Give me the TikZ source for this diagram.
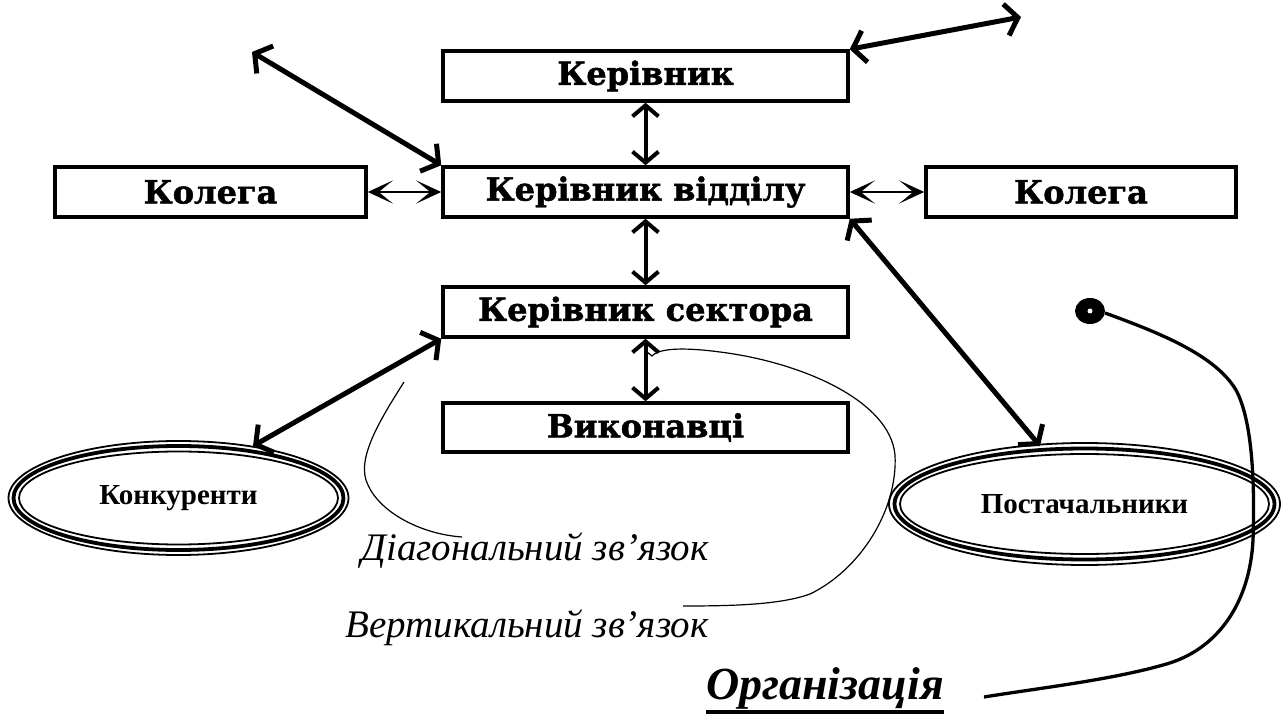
\documentclass[tikz,border=0pt]{standalone}
\usepackage{fontspec}
\setmainfont{Liberation Serif}
\newfontfamily\boxfont{DejaVu Serif}[BoldFeatures={FakeBold=1.5}]
\usetikzlibrary{arrows.meta,shapes.geometric}
\begin{document}
\begin{tikzpicture}[x=1pt,y=-1pt,
  rbox/.style={draw, line width=3.5pt, minimum height=50pt, inner sep=0pt,
    font=\boxfont\bfseries\fontsize{32}{36}\selectfont},
  vlink/.style={line width=4pt, {Straight Barb[length=11pt,width=26pt]}-{Straight Barb[length=11pt,width=26pt]}},
  hlink/.style={line width=2.8pt, {Stealth[length=25pt,width=23pt,inset=14pt]}-{Stealth[length=25pt,width=23pt,inset=14pt]}},
  dlink/.style={line width=5pt, {Straight Barb[length=12pt,width=32pt]}-{Straight Barb[length=12pt,width=32pt]}},
  oval/.style={ellipse, draw, line width=1.8pt, inner sep=0pt,
    font=\bfseries\fontsize{29}{33}\selectfont},
  thinlink/.style={line width=1.2pt},
  orglink/.style={line width=3.3pt},
  ital/.style={font=\itshape\fontsize{39}{44}\selectfont, inner sep=0pt}
]
\useasboundingbox (0,0) rectangle (1283,719);

% boxes
\node[rbox, minimum width=405pt] (ker) at (645.5,76) {Керівник};
\node[rbox, minimum width=405pt] (kv) at (645.5,192) {Керівник відділу};
\node[rbox, minimum width=311pt] (kolL) at (210.5,192) {Колега};
\node[rbox, minimum width=310pt] (kolR) at (1081,192) {Колега};
\node[rbox, minimum width=405pt] (ks) at (645.5,312) {Керівник сектора};
\node[rbox, minimum width=405pt, minimum height=49pt] (vyk) at (645.5,427.5) {Виконавці};

% ellipses (triple line)
\node[oval, minimum width=340pt, minimum height=114pt] (konk) at (178.5,498) {Конкуренти};
\draw[line width=3.8pt] (konk.center) ellipse [x radius=165pt, y radius=52pt];
\draw[line width=1.8pt] (konk.center) ellipse [x radius=159.5pt, y radius=46.5pt];

\node[oval, minimum width=391pt, minimum height=122pt] (post) at (1084.5,504) {Постачальники};
\draw[line width=3.8pt] (post.center) ellipse [x radius=190pt, y radius=55.5pt];
\draw[line width=1.8pt] (post.center) ellipse [x radius=184.5pt, y radius=50pt];

% free ends
\coordinate (tl) at (252,52);
\coordinate (tr) at (1021,17);
\coordinate (postTop) at (1040,446);
\coordinate (konkTop) at (253,446);

% vertical links
\draw[vlink] (ker.south) -- (kv.north);
\draw[vlink] (kv.south) -- (ks.north);
\draw[vlink] (ks.south) -- (vyk.north);

% horizontal links
\draw[hlink] (kolL.east) -- (kv.west);
\draw[hlink] (kv.east) -- (kolR.west);

% diagonal links
\draw[dlink] (tl) -- (kv.north west);
\draw[dlink] (ker.north east) -- (tr);
\draw[dlink] (kv.south east) -- (postTop);
\draw[dlink] (ks.south west) -- (konkTop);

% labels
\node[ital] (diag) at (535,551) {Діагональний зв’язок};
\node[ital] (vert) at (527,628) {Вертикальний зв’язок};
\node[font=\bfseries\itshape\fontsize{46}{50}\selectfont, inner sep=0pt] (org) at (825,688) {Організація};
\draw[line width=4pt] ([yshift=-3pt]org.south west) -- ([yshift=-3pt]org.south east);

% thin callout curves
\coordinate (dStart) at (404,382);
\draw[thinlink] (dStart) .. controls (380,420) and (355,460) .. (368,485)
  .. controls (380,512) and (420,534) .. (462,537);
\coordinate (vStart) at (647,352);
\draw[thinlink] (vStart) -- (652,356) .. controls (660,347) and (690,348) .. (720,352)
  .. controls (800,362) and (890,400) .. (895,455)
  .. controls (898,510) and (860,570) .. (810,594)
  .. controls (780,605) and (730,606) .. (683,606);

% organisation dot and curve
\coordinate (dot) at (1090,311);
\fill (dot) ellipse [x radius=15pt, y radius=13pt];
\fill[white] (dot) circle (2.5pt);
\draw[orglink] (1105,313) .. controls (1160,333) and (1215,355) .. (1236,390)
  .. controls (1252,420) and (1255,480) .. (1253,540)
  .. controls (1250,600) and (1220,650) .. (1163,665)
  .. controls (1110,680) and (1040,688) .. (984,697);
\end{tikzpicture}
\end{document}
